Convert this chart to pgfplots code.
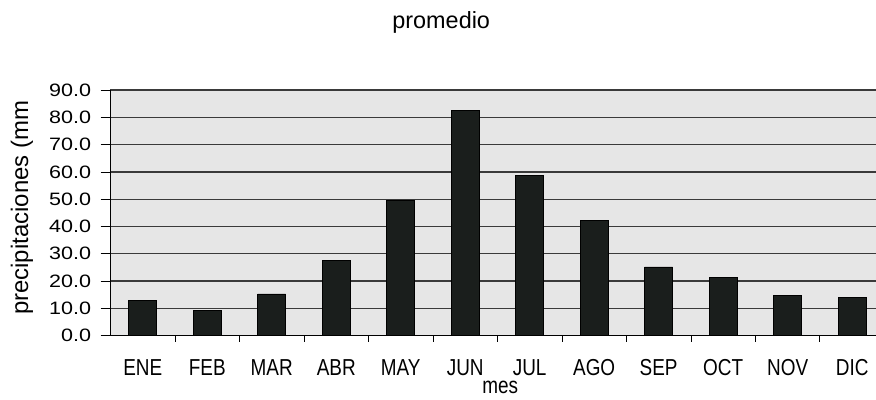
\documentclass[border=0pt]{standalone}
\usepackage{pgfplots}
\pgfplotsset{compat=1.18}
\usepackage{fontspec}
\setmainfont{Liberation Sans}
\definecolor{bg}{HTML}{E6E6E6}
\definecolor{barc}{HTML}{1A1E1C}
\definecolor{gridc}{HTML}{3A3A3A}
\newcommand{\xl}[1]{\scalebox{1}[1.22]{#1}}
\begin{document}
\begin{tikzpicture}
\useasboundingbox (-110.5bp,-64.3bp) rectangle (765.5bp,335.7bp);
\fill[white] (-110.5bp,-64.3bp) rectangle (765.5bp,335.7bp);
\begin{axis}[
  scale only axis, width=765.5bp, height=245.7bp,
  xmin=-0.5, xmax=11.37, ymin=0, ymax=90,
  axis x line*=bottom, axis y line*=left,
  axis line style={black, line width=0.9bp},
  axis background/.style={fill=bg},
  ybar, bar width=28bp,
  ytick={0,10,...,90},
  ymajorgrids, grid style={gridc, line width=1.3bp},
  /pgf/number format/assume math mode=true,
  yticklabel={\scalebox{1.2}[1]{\pgfmathprintnumber[fixed,fixed zerofill,precision=1]{\tick}}},
  yticklabel style={font=\fontsize{18}{18}\selectfont, xshift=-6bp},
  xtick={0,...,11},
  xticklabels={\xl{ENE},\xl{FEB},\xl{MAR},\xl{ABR},\xl{MAY},\xl{JUN},\xl{JUL},\xl{AGO},\xl{SEP},\xl{OCT},\xl{NOV},\xl{DIC}},
  xticklabel style={font=\fontsize{19}{19}\selectfont, yshift=-10bp},
  minor xtick={0.5,1.5,...,10.5},
  major x tick style={draw=none},
  minor x tick style={black, line width=0.8bp},
  major y tick style={black, line width=0.8bp},
  tick align=outside, major tick length=10bp, minor tick length=6bp,
  title={promedio},
  title style={at={(axis description cs:0.432,1.249)}, anchor=center, font=\fontsize{23.5}{24}\selectfont},
  xlabel={\xl{mes}},
  xlabel style={at={(axis description cs:0.509,-0.209)}, anchor=center, font=\fontsize{19}{19}\selectfont},
  ylabel={precipitaciones (mm},
  ylabel style={at={(axis description cs:-0.1156,0.52)}, anchor=center, rotate=0, font=\fontsize{24}{24}\selectfont},
]
\addplot[fill=barc, draw=black, line width=0.6bp] coordinates {
(0,12.8) (1,9.2) (2,15.3) (3,27.6) (4,49.6) (5,82.4)
(6,58.8) (7,42.3) (8,25.2) (9,21.4) (10,14.9) (11,13.9)};
\end{axis}
\end{tikzpicture}
\end{document}
